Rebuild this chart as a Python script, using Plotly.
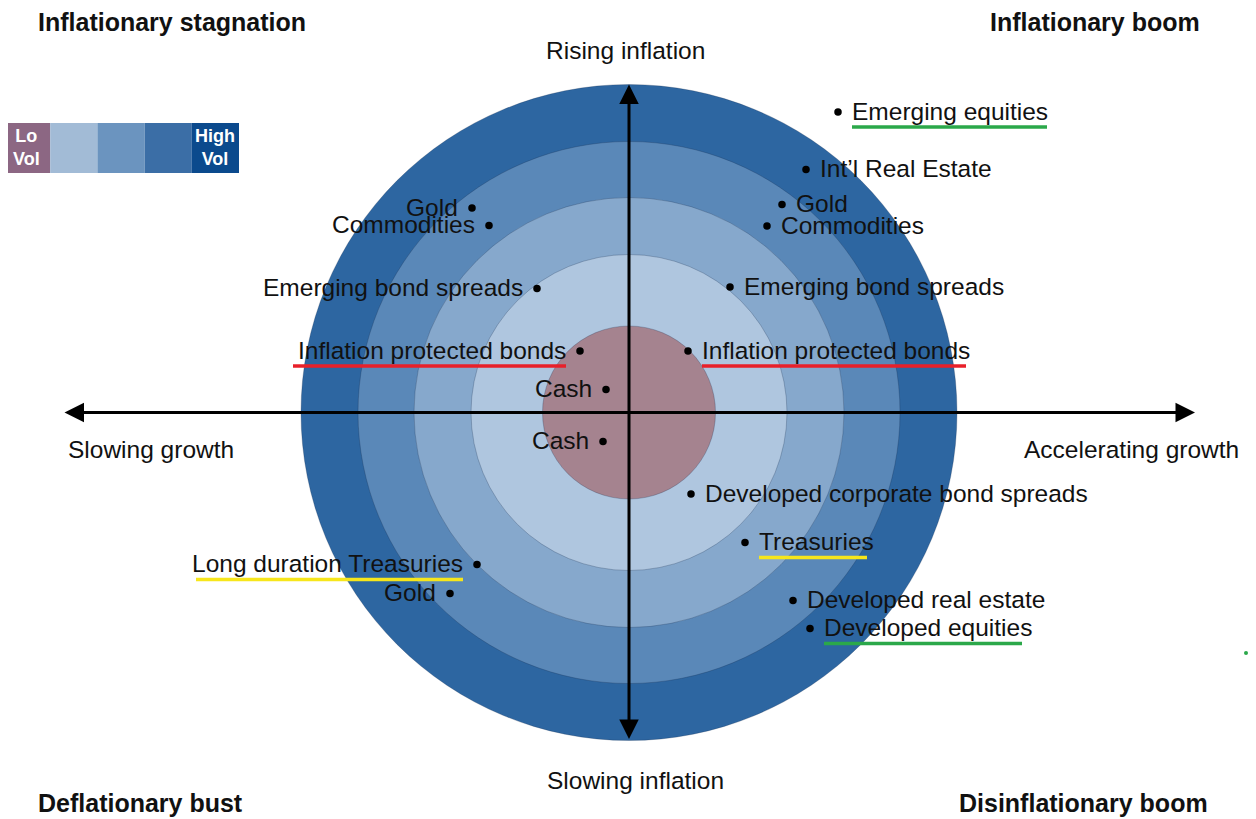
import plotly.graph_objects as go

# ---------------- data ----------------
# concentric volatility rings (outer -> inner), radius in chart units
ring_radius = [328, 271, 215, 158, 86.5]
ring_colors = ["#2D66A1", "#5A88B8", "#86A8CC", "#AFC6DF", "#A5838F"]

# asset positions: x = growth, y = inflation (chart units, centre = 0,0)
names_ur = ["Emerging equities", "Int’l Real Estate", "Gold", "Commodities",
            "Emerging bond spreads", "Inflation protected bonds"]
x_ur = [209, 177, 153, 138, 101, 59]
y_ur = [300.5, 243, 208, 186.5, 125.5, 61.5]

names_ul = ["Gold", "Commodities", "Emerging bond spreads",
            "Inflation protected bonds", "Cash"]
x_ul = [-157, -140, -92, -49, -23]
y_ul = [204.5, 187, 124, 61.5, 23]

names_ll = ["Cash", "Long duration Treasuries", "Gold"]
x_ll = [-26, -152, -179]
y_ll = [-29, -152, -181]

names_lr = ["Developed corporate bond spreads", "Treasuries",
            "Developed real estate", "Developed equities"]
x_lr = [62, 116, 164, 181]
y_lr = [-81.5, -130, -188, -216]

# highlighted labels: (quadrant, index, colour, underline length)
highlights = [
    ("ur", 0, "#2BA84A", 195),
    ("ur", 5, "#E8202A", 264),
    ("ul", 3, "#E8202A", 273),
    ("lr", 1, "#F7E61B", 108),
    ("ll", 1, "#F7E61B", 267),
    ("lr", 3, "#2BA84A", 198),
]

axis_labels = ["Rising inflation", "Slowing inflation", "Slowing growth", "Accelerating growth"]
corner_titles = ["Inflationary stagnation", "Inflationary boom",
                 "Deflationary bust", "Disinflationary boom"]
legend_colors = ["#8C6783", "#A2BBD6", "#6B94BF", "#3B6EA6", "#0B4A8D"]
legend_text = ["Lo<br>Vol", "", "", "", "High<br>Vol"]

# ---------------- figure ----------------
OFF = 8                       # page body margin
PW, PH = 1256, 819            # page size
W, H = PW - OFF, PH - OFF     # figure size
CX, CY = 629 - OFF, 412.5 - OFF   # chart centre in figure pixels
xr = [-CX, W - CX]
yr = [-(H - CY), CY]


def px(p):  # page pixel x -> paper
    return (p - OFF) / W


def py(p):  # page pixel y -> paper
    return 1 - (p - OFF) / H


FONT = "Liberation Sans, Arial, Helvetica, sans-serif"
LS = 24.5
fig = go.Figure()
shapes = []
annotations = []

for r, c in zip(ring_radius, ring_colors):
    shapes.append(dict(type="circle", xref="x", yref="y", x0=-r, x1=r, y0=-r, y1=r,
                       fillcolor=c, line=dict(color="rgba(20,40,70,0.25)", width=1),
                       layer="below"))

# axes arrows
ext_h = 566
R = ring_radius[0]
annotations.append(dict(x=ext_h, y=0, ax=-ext_h, ay=0, xref="x", yref="y", axref="x", ayref="y",
                        text="", showarrow=True, arrowhead=2, arrowside="end+start",
                        arrowsize=1.3, arrowwidth=3, arrowcolor="#000"))
annotations.append(dict(x=0, y=R, ax=0, ay=-R, xref="x", yref="y", axref="x", ayref="y",
                        text="", showarrow=True, arrowhead=2, arrowside="end+start",
                        arrowsize=1.3, arrowwidth=3, arrowcolor="#000"))

quads = {"ur": (names_ur, x_ur, y_ur, "R"), "ul": (names_ul, x_ul, y_ul, "L"),
         "ll": (names_ll, x_ll, y_ll, "L"), "lr": (names_lr, x_lr, y_lr, "R")}

allx, ally = [], []
for q, (names, xs, ys, side) in quads.items():
    allx += xs
    ally += ys
    for n, x, y in zip(names, xs, ys):
        annotations.append(dict(x=x, y=y, xref="x", yref="y", text=n, showarrow=False,
                                xanchor="left" if side == "R" else "right",
                                xshift=12 if side == "R" else -12, yshift=1,
                                font=dict(family=FONT, size=LS, color="#111")))

fig.add_trace(go.Scatter(x=allx, y=ally, mode="markers",
                         marker=dict(size=7.5, color="#000"), hoverinfo="skip"))

for q, i, col, L in highlights:
    names, xs, ys, side = quads[q]
    x, y = xs[i], ys[i]
    if side == "R":
        x0, x1 = x + 14, x + 14 + L
    else:
        x0, x1 = x - 14 - L, x - 14
    shapes.append(dict(type="line", xref="x", yref="y", x0=x0, x1=x1, y0=y - 15, y1=y - 15,
                       line=dict(color=col, width=3.5)))

# stray green mark
fig.add_trace(go.Scatter(x=[617], y=[-240.5], mode="markers",
                         marker=dict(size=4, color="#2BA84A"), hoverinfo="skip"))

# axis titles
ax_pos = [(-4, 362, "center"), (6, -367.5, "center"), (-563, -36.5, "left"), (393, -36.5, "left")]
for t, (x, y, a) in zip(axis_labels, ax_pos):
    annotations.append(dict(x=x, y=y, xref="x", yref="y", text=t, showarrow=False, xanchor=a,
                            font=dict(family=FONT, size=LS, color="#111")))

# corner titles (paper coords)
corner_pos = [(px(36), py(22), "left"), (px(1202), py(22), "right"),
              (px(36), py(803), "left"), (px(1210), py(803), "right")]
for t, (x, y, a) in zip(corner_titles, corner_pos):
    annotations.append(dict(x=x, y=y, xref="paper", yref="paper", text="<b>" + t + "</b>",
                            showarrow=False, xanchor=a, yanchor="middle",
                            font=dict(family=FONT, size=25, color="#111")))

# volatility legend
lx0, lw, ly0, ly1 = 3, 47.2, 123, 173
for k, (c, t) in enumerate(zip(legend_colors, legend_text)):
    x0 = lx0 + k * lw
    shapes.append(dict(type="rect", xref="paper", yref="paper",
                       x0=px(x0), x1=px(x0 + lw), y0=py(ly1), y1=py(ly0),
                       fillcolor=c, line=dict(width=0)))
    if t:
        annotations.append(dict(x=px(x0 + lw / 2), y=py((ly0 + ly1) / 2),
                                xref="paper", yref="paper", text="<b>" + t + "</b>",
                                xanchor="center", yanchor="middle",
                                showarrow=False,
                                font=dict(family=FONT, size=18, color="white")))

fig.update_layout(width=W, height=H, margin=dict(l=0, r=0, t=0, b=0),
                  paper_bgcolor="white", plot_bgcolor="white", showlegend=False,
                  shapes=shapes, annotations=annotations,
                  xaxis=dict(range=xr, visible=False, fixedrange=True),
                  yaxis=dict(range=yr, visible=False, fixedrange=True))

fig.write_html("out.html")
